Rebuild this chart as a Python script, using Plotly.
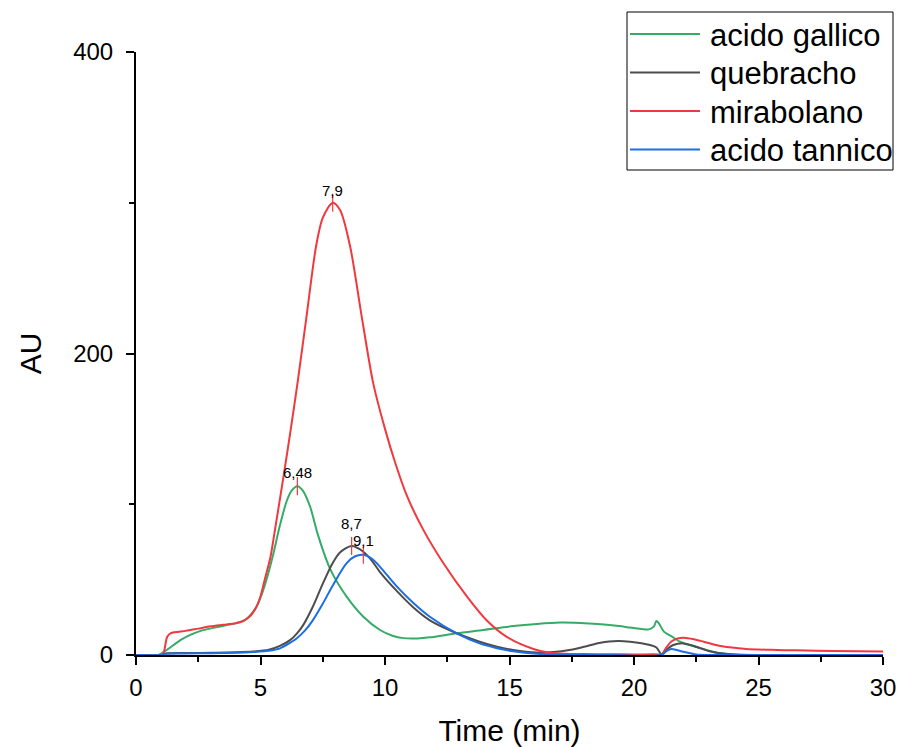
import plotly.graph_objects as go

# ---------------- data ----------------
t_gallico = [0, 0.9, 1.2, 1.5, 1.8, 2.2, 2.6, 3.1, 3.6, 4.0, 4.4, 4.8, 5.0, 5.24, 5.5, 5.78, 6.05, 6.25, 6.48,
             6.7, 7.0, 7.3, 7.8, 8.46, 9.13, 9.8, 10.3, 10.73, 11.3, 11.8, 12.88, 13.95, 15.15, 16.1,
             17.03, 17.6, 18.2, 18.8, 19.4, 19.84, 20.3, 20.6, 20.8, 20.9, 21.0, 21.2, 21.5, 21.85,
             22.2, 22.5, 22.9, 23.3, 23.7, 24.1, 25, 27, 30]
v_gallico = [0, 0, 3, 6.5, 10, 13.5, 16, 18, 19.8, 21, 23.5, 31, 38, 50, 66, 86, 102, 109, 112,
             109, 98, 80, 57, 38.7, 25.4, 16.6, 12.8, 11.2, 11, 11.7, 14.4, 16.6, 19.2, 20.6,
             21.5, 21.4, 20.9, 20.2, 19.2, 18.2, 17.3, 17, 19, 22.5, 21, 15.5, 12.5, 8.8,
             6.8, 5.3, 3.3, 1.5, 0.7, 0.3, 0, 0, 0]

t_quebracho = [0, 1.0, 1.2, 2, 3, 4, 4.7, 5.33, 5.78, 6.2, 6.45, 6.72, 7.1, 7.52, 7.9, 8.19, 8.66, 9.13,
               9.5, 9.8, 10.47, 11.14, 11.8, 12.88, 13.8, 14.5, 15.15, 16.1, 16.76, 17.4, 18.0, 18.6,
               19.0, 19.4, 19.84, 20.3, 20.64, 20.9, 21.1, 21.3, 21.58, 21.98, 22.5, 23.0, 23.5, 24, 30]
v_quebracho = [0, 0, 1, 1.3, 1.5, 1.8, 2.3, 3.5, 6, 10, 14, 20, 32, 48, 61, 68, 72.3, 68.5,
               62, 55, 42.5, 31.5, 23, 14.4, 8.8, 5.5, 3.3, 1.6, 2, 3.3, 5.5, 7.9,
               9, 9.3, 8.8, 7.8, 6.6, 5, 0.5, 3.5, 6.6, 7.7, 5.5, 2.7, 1.2, 0.3, 0]

t_mirabolano = [0, 1.0, 1.1, 1.25, 1.4, 2.0, 2.5, 3.0, 3.5, 4.0, 4.3, 4.6, 4.84, 5.0, 5.17, 5.4, 5.6, 5.92,
                6.2, 6.5, 6.86, 7.23, 7.5, 7.9, 8.2, 8.6, 9.06, 9.53, 10.0, 10.4, 10.87, 11.54, 12.34,
                13.28, 14.08, 14.89, 15.96, 16.6, 17.2, 18, 19, 20, 21.0, 21.1, 21.3, 21.5, 21.75, 22.0,
                22.4, 22.8, 23.2, 23.6, 24.0, 24.5, 25.5, 26.5, 28, 30]
v_mirabolano = [0, 0, 1, 12, 14.5, 16, 17.5, 19, 20, 21, 22.5, 26, 32, 39, 50, 65, 85, 118,
                148, 182, 226, 271, 290, 300, 295, 271, 225, 180, 150, 128, 106, 83, 61,
                39, 23, 12, 4, 1.5, 0.8, 0.6, 0.5, 0.4, 0.4, 0.3, 5, 9, 11, 11.5,
                10.5, 8.8, 7, 5.6, 4.8, 4, 3.4, 3.1, 2.7, 2.3]

t_tannico = [0, 1.0, 1.2, 2, 3, 4, 4.7, 5.33, 5.78, 6.18, 6.45, 6.8, 7.1, 7.5, 7.93, 8.46, 8.8, 9.13, 9.5,
             9.8, 10.47, 11.14, 11.8, 12.88, 13.8, 14.5, 15.15, 16.1, 17.0, 19, 21.1, 21.3,
             21.5, 21.98, 22.5, 23, 30]
v_tannico = [0, 0, 0.8, 1, 1.2, 1.5, 2, 2.8, 4.4, 8, 11, 16.5, 23, 34, 47, 61, 65.5, 66.5, 63.5,
             58.5, 45.5, 34.5, 25.4, 14.4, 7.7, 4.5, 2.5, 0.8, 0.2, 0, 0, 2.5,
             4, 2.2, 0.3, 0, 0]

series_names = ["acido gallico", "quebracho", "mirabolano", "acido tannico"]
series_colors = ["#36ab68", "#4d4d4d", "#f0393f", "#1c6ee3"]

peak_x = [6.48, 7.9, 8.66, 9.13]
peak_y = [112, 300, 72.3, 66.5]
peak_labels = ["6,48", "7,9", "8,7", "9,1"]
peak_label_shift = [14, 12, 23, 14]

x_ticks = [0, 5, 10, 15, 20, 25, 30]
y_ticks = [0, 200, 400]

# ---------------- figure ----------------
L, R, T, B, W, H = 136, 15, 52, 92, 898, 747
PW, PH = W - L - R, H - T - B


def px_to_paper(px, py):
    return (px - L) / PW, (H - B - py) / PH


fig = go.Figure()
data = [(t_gallico, v_gallico), (t_quebracho, v_quebracho), (t_mirabolano, v_mirabolano), (t_tannico, v_tannico)]
for (tx, vy), name, col in zip(data, series_names, series_colors):
    fig.add_trace(go.Scatter(x=tx, y=vy, mode="lines", name=name, showlegend=False,
                             line=dict(color=col, width=2, shape="spline", smoothing=0.8)))

fig.add_trace(go.Scatter(x=peak_x, y=peak_y, mode="markers", showlegend=False, hoverinfo="skip",
                         marker=dict(symbol="line-ns", size=13, color="#f0393f",
                                     line=dict(color="#f0393f", width=1.2))))

for px, py, lab, sh in zip(peak_x, peak_y, peak_labels, peak_label_shift):
    fig.add_annotation(x=px, y=py, text=lab, showarrow=False, yshift=sh,
                       font=dict(size=15, color="black", family="Arial, Liberation Sans"))

# legend box drawn in paper coordinates
bx0, by0 = px_to_paper(627, 170)
bx1, by1 = px_to_paper(893, 12)
fig.add_shape(type="rect", xref="paper", yref="paper", x0=bx0, y0=by0, x1=bx1, y1=by1,
              line=dict(color="black", width=1), fillcolor="white", layer="above")
row_y = [34, 72.5, 111, 149.5]
for name, col, ry in zip(series_names, series_colors, row_y):
    lx0, ly = px_to_paper(630, ry)
    lx1, _ = px_to_paper(700, ry)
    fig.add_shape(type="line", xref="paper", yref="paper", x0=lx0, x1=lx1, y0=ly, y1=ly,
                  line=dict(color=col, width=2), layer="above")
    tx0, ty = px_to_paper(708, ry + 1)
    fig.add_annotation(xref="paper", yref="paper", x=tx0, y=ty, text=name, showarrow=False,
                       xanchor="left", yanchor="middle",
                       font=dict(size=31, color="black", family="Arial, Liberation Sans"))

axis_common = dict(showline=True, linecolor="black", linewidth=2, ticks="outside", ticklen=8,
                   tickwidth=2, tickcolor="black", showgrid=False, zeroline=False,
                   tickfont=dict(size=24, color="black", family="Arial, Liberation Sans"))

fig.update_layout(
    width=W, height=H,
    margin=dict(l=L, r=R, t=T, b=B, autoexpand=False),
    plot_bgcolor="white", paper_bgcolor="white",
    font=dict(family="Arial, Liberation Sans", color="black"),
    xaxis=dict(range=[0, 30], tickvals=x_ticks, ticklabelstandoff=2,
               minor=dict(ticks="outside", ticklen=5, tickwidth=1.5, tickcolor="black", dtick=2.5),
               title=dict(text="Time (min)", font=dict(size=30), standoff=23), **axis_common),
    yaxis=dict(range=[0, 400], tickvals=y_ticks, ticklabelstandoff=8,
               minor=dict(ticks="outside", ticklen=5, tickwidth=1.5, tickcolor="black", dtick=100),
               title=dict(text="AU", font=dict(size=30), standoff=23), **axis_common),
    showlegend=False,
)

fig.write_html("out.html")
